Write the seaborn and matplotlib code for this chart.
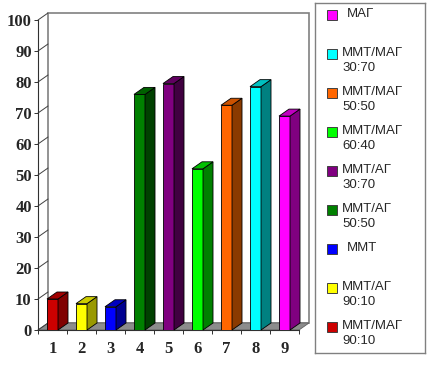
import matplotlib
matplotlib.use("Agg")
import matplotlib.pyplot as plt
import seaborn as sns
from matplotlib.patches import Polygon, Rectangle

# data
cats = ["1", "2", "3", "4", "5", "6", "7", "8", "9"]
vals = [10, 8.5, 7.5, 76, 79.5, 52, 72.5, 78.5, 69]
front_colors = ["#cc0000", "#ffff00", "#0000ff", "#008000", "#800080",
                "#00ff00", "#ff6600", "#00ffff", "#ff00ff"]
side_colors = ["#800000", "#999900", "#000090", "#004000", "#400040",
               "#008000", "#8a3a00", "#008080", "#800080"]
top_colors = ["#a00000", "#cccc00", "#0000c0", "#006000", "#600060",
              "#00c000", "#cc5200", "#00c0c0", "#c000c0"]

legend_labels = ["МАГ", "ММТ/МАГ\n30:70", "ММТ/МАГ\n50:50", "ММТ/МАГ\n60:40",
                 "ММТ/АГ\n30:70", "ММТ/АГ\n50:50", "ММТ", "ММТ/АГ\n90:10",
                 "ММТ/МАГ\n90:10"]
legend_colors = ["#ff00ff", "#00ffff", "#ff6600", "#00ff00", "#800080",
                 "#008000", "#0000ff", "#ffff00", "#cc0000"]

sns.set_style("white")
plt.rcParams["font.family"] = ["Liberation Serif", "DejaVu Serif"]

fig = plt.figure(figsize=(4.42, 3.80), dpi=100)
ax = fig.add_axes([38 / 442, 50 / 380, 261 / 442, 310 / 380])

sns.barplot(x=cats, y=vals, hue=cats, palette=front_colors, width=0.38,
            saturation=1, legend=False, edgecolor="black", linewidth=0.6,
            ax=ax, zorder=3)

ax.set_xlim(-0.5, 8.5)
ax.set_ylim(0, 100)

# depth offset of the fake 3d look (data units)
dx = 10 / 29
dy = 7 / 3.1

# back wall, floor and depth connectors
wall = Polygon([(-0.5 + dx, dy), (-0.5 + dx, 100 + dy), (8.5 + dx, 100 + dy),
                (8.5 + dx, dy)], closed=True, fill=False, edgecolor="#808080",
               linewidth=1.2, clip_on=False, zorder=1)
ax.add_patch(wall)
floor = Polygon([(-0.5, 0), (8.5, 0), (8.5 + dx, dy), (-0.5 + dx, dy)],
                closed=True, facecolor="#8c8c8c", edgecolor="#606060",
                linewidth=0.6, clip_on=False, zorder=2)
ax.add_patch(floor)
for v in range(0, 101, 10):
    ax.plot([-0.5, -0.5 + dx], [v, v + dy], color="#404040", lw=0.7,
            clip_on=False, zorder=2)

bars = sorted([p for p in ax.patches if isinstance(p, Rectangle)],
              key=lambda p: p.get_x())
for p, sc, tc in zip(bars, side_colors, top_colors):
    x0 = p.get_x()
    x1 = x0 + p.get_width()
    h = p.get_height()
    side = Polygon([(x1, 0), (x1 + dx, dy), (x1 + dx, h + dy), (x1, h)],
                   closed=True, facecolor=sc, edgecolor="black", linewidth=0.6,
                   clip_on=False, zorder=3)
    top = Polygon([(x0, h), (x1, h), (x1 + dx, h + dy), (x0 + dx, h + dy)],
                  closed=True, facecolor=tc, edgecolor="black", linewidth=0.6,
                  clip_on=False, zorder=3)
    ax.add_patch(side)
    ax.add_patch(top)

# axes styling
for s in ["top", "right"]:
    ax.spines[s].set_visible(False)
ax.spines["left"].set_color("#303030")
ax.spines["bottom"].set_color("#303030")
ax.spines["left"].set_linewidth(0.8)
ax.spines["bottom"].set_linewidth(0.8)
ax.set_yticks(range(0, 101, 10))
ax.set_xticks(range(9), cats)
ax.set_xticks([i - 0.5 for i in range(10)], minor=True)
ax.tick_params(axis="y", direction="out", length=3, width=0.7, pad=1.5,
               left=True, labelsize=12, color="#303030")
ax.tick_params(axis="x", which="major", length=0, pad=8, labelsize=12)
ax.tick_params(axis="x", which="minor", direction="out", length=3, width=0.7,
               bottom=True, color="#303030")
for lbl in ax.get_xticklabels() + ax.get_yticklabels():
    lbl.set_fontweight("bold")
ax.set_xlabel("")
ax.set_ylabel("")
ax.grid(False)

# legend panel
lax = fig.add_axes([315 / 442, 27 / 380, 110 / 442, 350 / 380])
lax.set_xlim(0, 110)
lax.set_ylim(350, 0)
lax.set_xticks([])
lax.set_yticks([])
for s in lax.spines.values():
    s.set_color("#808080")
    s.set_linewidth(1.0)
for i, (lab, col) in enumerate(zip(legend_labels, legend_colors)):
    yc = 12 + 39 * i
    lax.add_patch(Rectangle((12, yc - 5), 10, 10, facecolor=col,
                            edgecolor="#404040", linewidth=0.7))
    tx = 27 if "\n" in lab else 32
    lax.text(tx, yc - 7, lab, va="top", ha="left", fontsize=9.5,
             family=["Liberation Sans", "DejaVu Sans"], linespacing=1.3)

fig.savefig("out.png", dpi=100)
